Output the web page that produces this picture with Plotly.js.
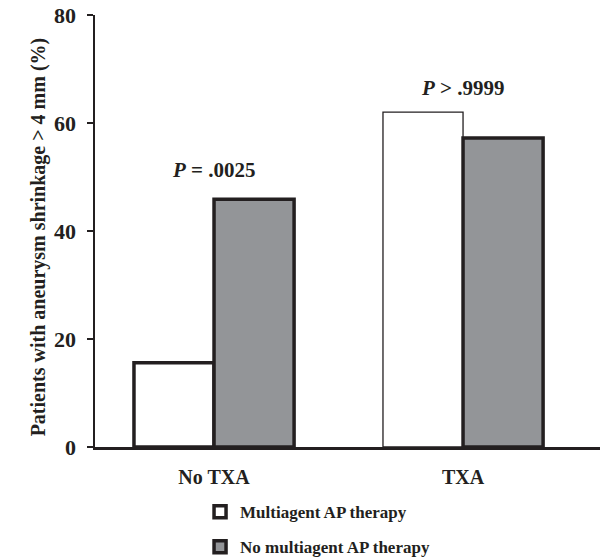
<!DOCTYPE html>
<html>
<head>
<meta charset="utf-8">
<script src="https://cdn.plot.ly/plotly-3.0.1.min.js"></script>
<style>html,body{margin:0;padding:0;background:#fff;}#chart{width:600px;height:558px;}</style>
</head>
<body>
<div id="chart"></div>
<script>
const categories = ["No TXA", "TXA"];
const multiagent = [15.6, 62.0];
const noMultiagent = [45.9, 57.2];
const seriesNames = ["Multiagent AP therapy", "No multiagent AP therapy"];
const pLabels = ["<b><i>P</i> = .0025</b>", "<b><i>P</i> &gt; .9999</b>"];
const pLabelY = [51.3, 66.5];
const yTicks = [0, 20, 40, 60, 80];

const ink = "#231f20";
const serif = "Liberation Serif";

const traces = [
  {
    type: "bar", name: "<b>" + seriesNames[0] + "</b>", x: categories, y: multiagent,
    legendgroup: "a",
    marker: {color: "#ffffff", line: {color: ink, width: [3.5, 1.3]}},
    hoverinfo: "skip"
  },
  {
    type: "bar", name: "<b>" + seriesNames[1] + "</b>", x: categories, y: noMultiagent,
    legendgroup: "b",
    marker: {color: "#939598", line: {color: ink, width: [3.5, 3.5]}},
    hoverinfo: "skip"
  }
];

const annotations = categories.map((c, i) => ({
  x: c, y: pLabelY[i], xref: "x", yref: "y", text: pLabels[i], showarrow: false,
  font: {family: serif, size: 21, color: ink}
}));
annotations.push({
  xref: "paper", yref: "paper", x: -0.139, y: 0.486, textangle: -90,
  text: "<b>Patients with aneurysm shrinkage &gt; 4 mm (%)</b>", showarrow: false,
  font: {family: serif, size: 20, color: ink}
});

const layout = {
  width: 600, height: 558,
  margin: {l: 95, r: 0, t: 15, b: 111, autoexpand: false},
  paper_bgcolor: "#fff", plot_bgcolor: "#fff",
  barmode: "group", bargap: 0.357, bargroupgap: 0,
  font: {family: serif, color: ink},
  xaxis: {
    type: "category", range: [-0.478, 1.55], automargin: false,
    tickvals: categories, ticktext: categories.map(c => "<b>" + c + "</b>"),
    showline: true, linecolor: ink, linewidth: 2.5,
    showgrid: false, zeroline: false, ticks: "",
    tickfont: {family: serif, size: 20, color: ink},
    ticklabelstandoff: 10
  },
  yaxis: {
    range: [0, 80], automargin: false,
    tickvals: yTicks, ticktext: yTicks.map(v => "<b>" + v + "</b>"),
    showline: true, linecolor: ink, linewidth: 2.5,
    showgrid: false, zeroline: false,
    ticks: "outside", ticklen: 6, tickwidth: 2, tickcolor: ink,
    tickfont: {family: serif, size: 22, color: ink},
    ticklabelstandoff: 6
  },
  showlegend: true,
  legend: {
    x: 0.208, xanchor: "left", y: -0.109, yanchor: "top",
    traceorder: "grouped", tracegroupgap: 10,
    font: {family: serif, size: 17, color: ink},
    bgcolor: "rgba(0,0,0,0)", borderwidth: 0
  },
  annotations: annotations
};

Plotly.newPlot("chart", traces, layout, {staticPlot: true, displayModeBar: false});
</script>
</body>
</html>
